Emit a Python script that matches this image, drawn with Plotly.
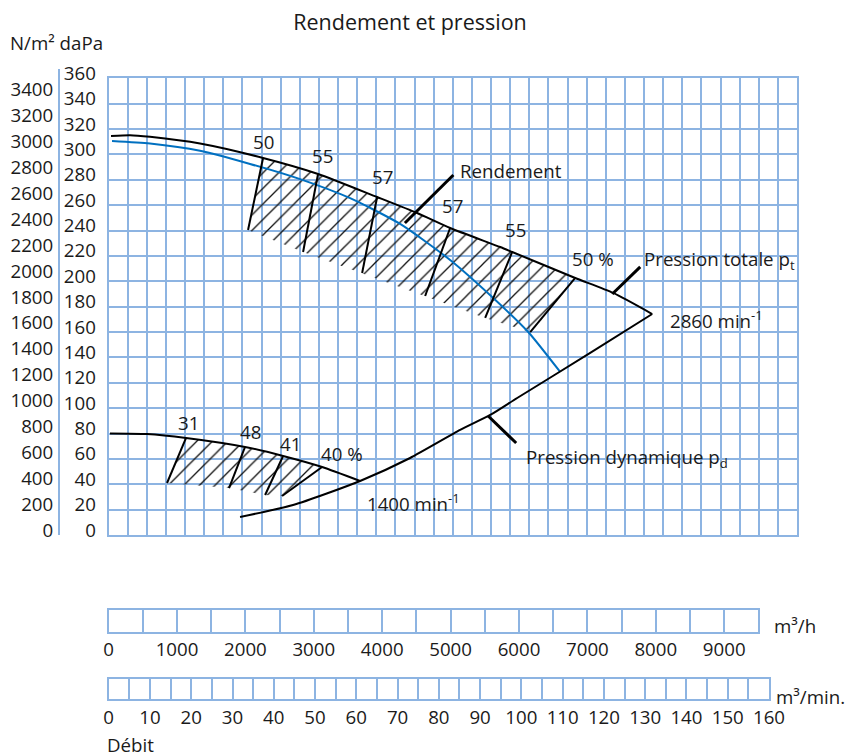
import plotly.graph_objects as go

# débit en m³/h, pression en daPa
pt_2860_q = [35, 313, 605, 1336, 2257, 3061, 3924, 4509, 4991, 5722, 5898, 6819, 7374, 7944]
pt_2860_p = [314.5, 315.2, 313.9, 308.6, 297.2, 284.6, 266.4, 253.8, 242.0, 227.0, 223.1, 202.6, 190.8, 174.2]

blue_q = [50, 605, 1336, 2067, 2798, 3529, 4260, 4991, 5605, 6132, 6599]
blue_p = [310.6, 308.6, 302.9, 292.5, 280.5, 265.5, 245.2, 216.8, 187.6, 160.0, 128.5]

pd_q = [1921, 2696, 3675, 4406, 5137, 5576, 5971, 7038, 7944]
pd_p = [14.2, 23.6, 42.6, 60.7, 82.8, 94.6, 108.0, 143.5, 174.2]

pt_1400_q = [20, 561, 1132, 1994, 2550, 3120, 3675]
pt_1400_p = [80.1, 79.6, 76.5, 69.4, 62.3, 53.6, 42.6]

# rendements sur la courbe 2860 min-1
eff_2860_labels = ["50", "55", "57", "57", "55", "50 %"]
eff_2860_top_q = [2257, 3061, 3924, 4991, 5898, 6819]
eff_2860_top_p = [297.2, 284.6, 266.4, 242.0, 223.1, 202.6]
eff_2860_bot_q = [2038, 2842, 3705, 4626, 5503, 6161]
eff_2860_bot_p = [240.4, 223.1, 206.5, 188.4, 171.1, 160.0]
eff_2860_lab_q = [2257, 3120, 3997, 5020, 5942, 7082]
eff_2860_lab_p = [309.8, 299.5, 282.2, 260.1, 241.2, 217.6]

# rendements sur la courbe 1400 min-1
eff_1400_labels = ["31", "48", "41", "40 %"]
eff_1400_top_q = [1132, 1994, 2550, 3120]
eff_1400_top_p = [76.5, 69.4, 62.3, 53.6]
eff_1400_bot_q = [854, 1760, 2287, 2535]
eff_1400_bot_p = [41.0, 37.0, 31.5, 30.7]
eff_1400_lab_q = [1164, 2067, 2652, 3412]
eff_1400_lab_p = [88.3, 81.2, 72.5, 64.6]

# axes
dapa_ticks = [0, 20, 40, 60, 80, 100, 120, 140, 160, 180, 200, 220, 240, 260, 280, 300, 320, 340, 360]
nm2_ticks = [0, 200, 400, 600, 800, 1000, 1200, 1400, 1600, 1800, 2000, 2200, 2400, 2600, 2800, 3000, 3200, 3400]
flow_h_ticks = [0, 1000, 2000, 3000, 4000, 5000, 6000, 7000, 8000, 9000]
flow_min_ticks = [0, 10, 20, 30, 40, 50, 60, 70, 80, 90, 100, 110, 120, 130, 140, 150, 160]

W, H = 846, 756
GRID = "#8db4e2"
TXT = "#1a1a1a"
FONT = "Open Sans"
FS = 18.7


def px(x):
    return x / W


def py(y):
    return 1 - y / H


def segments(q0, p0, q1, p1):
    xs, ys = [], []
    for a, b, c, d in zip(q0, p0, q1, p1):
        xs += [a, c, None]
        ys += [b, d, None]
    return xs, ys


def hatch_polygon(curve_q, curve_p, top_q, top_p, bot_q, bot_p):
    xs = [top_q[0]]
    ys = [top_p[0]]
    for q, p in zip(curve_q, curve_p):
        if top_q[0] < q < top_q[-1]:
            xs.append(q)
            ys.append(p)
    xs.append(top_q[-1])
    ys.append(top_p[-1])
    xs += bot_q[::-1]
    ys += bot_p[::-1]
    xs.append(top_q[0])
    ys.append(top_p[0])
    return xs, ys


fig = go.Figure()

hatch = dict(shape="/", size=11, solidity=0.12, fgcolor="#111111",
             bgcolor="rgba(0,0,0,0)", fillmode="replace")

hx, hy = hatch_polygon(pt_2860_q, pt_2860_p, eff_2860_top_q, eff_2860_top_p,
                       eff_2860_bot_q, eff_2860_bot_p)
fig.add_trace(go.Scatter(x=hx, y=hy, mode="lines", fill="toself",
                         fillcolor="rgba(0,0,0,0)", fillpattern=hatch,
                         line=dict(width=0), hoverinfo="skip"))
hx, hy = hatch_polygon(pt_1400_q, pt_1400_p, eff_1400_top_q, eff_1400_top_p,
                       eff_1400_bot_q, eff_1400_bot_p)
fig.add_trace(go.Scatter(x=hx, y=hy, mode="lines", fill="toself",
                         fillcolor="rgba(0,0,0,0)", fillpattern=hatch,
                         line=dict(width=0), hoverinfo="skip"))

# courbes
curve = dict(width=2, shape="spline", smoothing=0.6)
fig.add_trace(go.Scatter(x=blue_q, y=blue_p, mode="lines", line=dict(color="#0070c0", **curve)))
fig.add_trace(go.Scatter(x=pt_2860_q, y=pt_2860_p, mode="lines", line=dict(color="black", **curve)))
fig.add_trace(go.Scatter(x=pd_q, y=pd_p, mode="lines", line=dict(color="black", **curve)))
fig.add_trace(go.Scatter(x=pt_1400_q, y=pt_1400_p, mode="lines", line=dict(color="black", **curve)))

# traits de rendement
sx, sy = segments(eff_2860_top_q, eff_2860_top_p, eff_2860_bot_q, eff_2860_bot_p)
fig.add_trace(go.Scatter(x=sx, y=sy, mode="lines", line=dict(color="black", width=2)))
sx, sy = segments(eff_1400_top_q, eff_1400_top_p, eff_1400_bot_q, eff_1400_bot_p)
fig.add_trace(go.Scatter(x=sx, y=sy, mode="lines", line=dict(color="black", width=2)))

# lignes de rappel des légendes
sx, sy = segments([5038, 7769, 5956], [283.8, 211.3, 72.5], [4330, 7361, 5547], [245.9, 190.0, 93.8])
fig.add_trace(go.Scatter(x=sx, y=sy, mode="lines", line=dict(color="black", width=3)))

# axes secondaires (N/m², m³/h, m³/min.)
for ax in ["3", "4", "5"]:
    fig.add_trace(go.Scatter(x=[None], y=[None], xaxis="x" + ax, yaxis="y" + ax,
                             hoverinfo="skip"))

annotations = []


def label(text, x, y, xanchor="center", **kw):
    annotations.append(dict(text=text, x=x, y=y, xanchor=xanchor, yanchor="middle",
                            showarrow=False, font=dict(family=FONT, size=FS, color=TXT), **kw))


for t, q, p in zip(eff_2860_labels, eff_2860_lab_q, eff_2860_lab_p):
    label(t, q, p, xref="x", yref="y")
for t, q, p in zip(eff_1400_labels, eff_1400_lab_q, eff_1400_lab_p):
    label(t, q, p, xref="x", yref="y")

label("Rendement", 5108, 287.7, xanchor="left", xref="x", yref="y")
label("Pression totale p<sub>t</sub>", 7798, 216.8, xanchor="left", xref="x", yref="y")
label("2860 min<sup>-1</sup>", 8178, 169.5, xanchor="left", xref="x", yref="y")
label("Pression dynamique p<sub>d</sub>", 6073, 60.7, xanchor="left", xref="x", yref="y")
label("1400 min<sup>-1</sup>", 3749, 26.0, xanchor="left", xref="x", yref="y")

label("N/m² daPa", px(8), py(43), xanchor="left", xref="paper", yref="paper")
label("m³/h", px(772), py(625), xanchor="left", xref="paper", yref="paper")
label("m³/min.", px(774), py(696), xanchor="left", xref="paper", yref="paper")
label("Débit", px(105), py(744), xanchor="left", xref="paper", yref="paper")

tickfont = dict(family=FONT, size=FS, color=TXT)
box = dict(showline=True, mirror=True, linecolor=GRID, linewidth=2, zeroline=False,
           automargin=False, ticks="")

fig.update_layout(
    template="none",
    width=W,
    height=H,
    margin=dict(l=0, r=0, t=0, b=0, pad=0, autoexpand=False),
    paper_bgcolor="white",
    plot_bgcolor="white",
    showlegend=False,
    title=dict(text="Rendement et pression", x=px(410), y=py(22), xanchor="center",
               yanchor="middle", font=dict(family=FONT, size=21.5, color=TXT)),
    annotations=annotations,
    xaxis=dict(domain=[px(108.6), px(797)], range=[0, 10060], tick0=0, dtick=10060 / 36,
               showticklabels=False, showgrid=True, gridcolor=GRID, gridwidth=2, **box),
    yaxis=dict(domain=[py(535), py(78.3)], range=[0, 360], tickmode="array",
               tickvals=dapa_ticks, tickfont=tickfont, ticklabelshift=-5,
               ticklabelstandoff=7, showgrid=True, gridcolor=GRID, gridwidth=2, **box),
    xaxis3=dict(domain=[px(60), px(70)], anchor="y3", range=[0, 1], visible=False),
    yaxis3=dict(domain=[py(535), py(69)], anchor="x3", range=[0, 3600], tickmode="array",
                tickvals=nm2_ticks, tickfont=tickfont, ticklabelshift=-5, ticklabelstandoff=1,
                showgrid=False, showline=True, linecolor=GRID, linewidth=2, zeroline=False,
                automargin=False, ticks=""),
    xaxis4=dict(domain=[px(108.6), px(758.4)], anchor="y4", range=[0, 9500], tickmode="array",
                tickvals=flow_h_ticks, tickfont=tickfont, ticklabelstandoff=0,
                showgrid=True, gridcolor=GRID, gridwidth=2,
                minor=dict(tick0=0, dtick=500, showgrid=True, gridcolor=GRID, gridwidth=2),
                **box),
    yaxis4=dict(domain=[py(631.7), py(610)], anchor="x4", range=[0, 1], showticklabels=False,
                showgrid=False, **box),
    xaxis5=dict(domain=[px(108.7), px(769)], anchor="y5", range=[0, 160], tickmode="array",
                tickvals=flow_min_ticks, tickfont=tickfont, ticklabelstandoff=1,
                showgrid=True, gridcolor=GRID, gridwidth=2,
                minor=dict(tick0=0, dtick=5, showgrid=True, gridcolor=GRID, gridwidth=2),
                **box),
    yaxis5=dict(domain=[py(699), py(679)], anchor="x5", range=[0, 1], showticklabels=False,
                showgrid=False, **box),
)

fig.write_html("out.html", config={"displayModeBar": False},
               post_script="document.body.style.margin='0';document.body.style.overflow='hidden';")
